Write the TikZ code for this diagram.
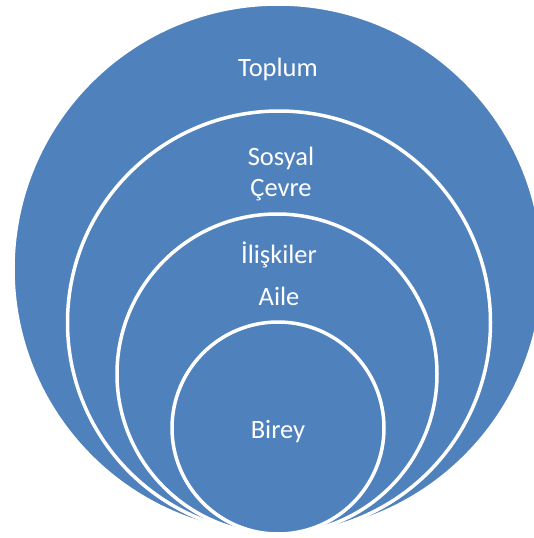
\documentclass[tikz,border=0pt]{standalone}
\usepackage{fontspec}
\setmainfont{Carlito}
\definecolor{ringblue}{HTML}{4F81BD}

\begin{document}
\begin{tikzpicture}[x=1pt,y=-1pt,
	ring/.style={fill=ringblue,draw=white,line width=3.5pt},
	lbl/.style={text=white,font=\fontsize{26.5}{31}\selectfont,align=center}]
	\clip (0,0) rectangle (534,538);
	\draw[ring] (278,269) circle [radius=265];
	\draw[ring] (279,322.5) circle [radius=211.5];
	\draw[ring] (277,374) circle [radius=160];
	\draw[ring] (278,428) circle [radius=106];
	\node[lbl] (toplum) at (278,69) {Toplum};
	\node[lbl] (sosyal) at (281,174) {Sosyal\\Çevre};
	\node[lbl] (iliski) at (279,255) {İlişkiler};
	\node[lbl] (aile) at (279,296) {Aile};
	\node[lbl] (birey) at (278,432) {Birey};
\end{tikzpicture}
\end{document}
